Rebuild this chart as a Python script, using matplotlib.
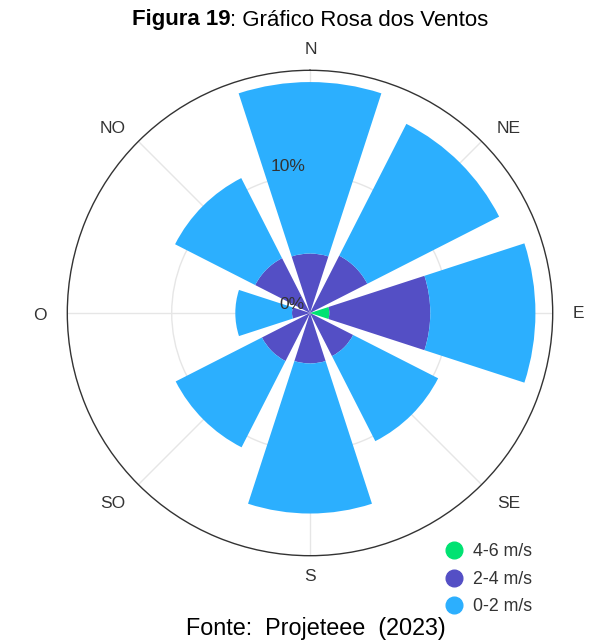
import numpy as np
import matplotlib.pyplot as plt

plt.rcParams["font.family"] = ["Liberation Sans", "DejaVu Sans"]

# wind directions (compass, clockwise from north)
directions = ["N", "NE", "E", "SE", "S", "SO", "O", "NO"]
angles_deg = [0, 45, 90, 135, 180, 225, 270, 315]

# frequency (%) per speed class
speed_4_6 = [0.0, 0.0, 1.4, 0.0, 0.0, 0.0, 0.0, 0.0]
speed_2_4 = [4.3, 4.65, 7.3, 3.5, 3.65, 3.9, 1.3, 4.45]
speed_0_2 = [12.4, 10.7, 7.6, 6.9, 10.85, 7.0, 4.1, 6.5]

series_labels = ["4-6 m/s", "2-4 m/s", "0-2 m/s"]
series_colors = ["#00e272", "#544fc5", "#2caffe"]

r_max = 17.55
r_ticks = [0, 10]
r_tick_labels = ["0%", "10%"]

W, H = 600, 643
fig = plt.figure(figsize=(W / 100, H / 100), dpi=100)

cx, cy, rad = 310, 313, 242.7
ax = fig.add_axes([(cx - rad) / W, (H - cy - rad) / H, 2 * rad / W, 2 * rad / H],
                  projection="polar")
ax.set_theta_zero_location("N")
ax.set_theta_direction(-1)
ax.set_ylim(0, r_max)

theta = np.deg2rad(angles_deg)
width = np.deg2rad(36)
bottom = np.zeros(len(theta))
for vals, lab, col in zip([speed_4_6, speed_2_4, speed_0_2], series_labels, series_colors):
    ax.bar(theta, vals, width=width, bottom=bottom, color=col, label=lab,
           linewidth=0, zorder=2)
    bottom = bottom + np.array(vals)

# grid / frame
ax.set_axisbelow(True)
ax.set_xticks(theta)
ax.set_xticklabels([])
ax.set_yticks([10])
ax.set_yticklabels([])
ax.grid(True, color="#e6e6e6", linewidth=1)
ax.spines["polar"].set_color("#333333")
ax.spines["polar"].set_linewidth(1)
ax.tick_params(length=0)

# direction labels, offset (px) from the outer circle
label_offsets = [(0.5, 21), (27, 13), (26, -0.3), (27, -19), (0, -20.5),
                 (-26, -19), (-27, -2), (-26, 13)]
for a, d, (dx, dy) in zip(theta, directions, label_offsets):
    ax.annotate(d, xy=(a, r_max), xytext=(dx * 0.72, dy * 0.72),
                textcoords="offset points", ha="center", va="center",
                fontsize=12.5, color="#333333", annotation_clip=False)

# radial labels
for r, lab in zip(r_ticks, r_tick_labels):
    ax.annotate(lab, xy=(0, r), xytext=(-3.6, 6.0), textcoords="offset points",
                ha="right", va="center", fontsize=12.5, color="#333333", zorder=5)

# legend
handles = [plt.Line2D([], [], marker="o", linestyle="none", markersize=12,
                      markerfacecolor=c, markeredgecolor=c) for c in series_colors]
fig.legend(handles, series_labels, loc="upper left",
           bbox_to_anchor=(436 / W, 1 - 543.5 / H), frameon=False,
           fontsize=12.8, labelcolor="#333333", handletextpad=0.1,
           labelspacing=0.58, borderaxespad=0, borderpad=0)

# title and source
t1 = fig.text(0.5, 1 - 20 / H, "Figura 19", fontsize=16, fontweight="bold",
              ha="right", va="center")
t2 = fig.text(0.5, 1 - 20 / H, ": Gráfico Rosa dos Ventos", fontsize=16,
              ha="left", va="center")
fig.canvas.draw()
r = fig.canvas.get_renderer()
w1 = t1.get_window_extent(r).width
w2 = t2.get_window_extent(r).width
shift = (w1 - w2) / 2 / W
t1.set_x(0.5 + shift + 10 / W)
t2.set_x(0.5 + shift + 10 / W)

fig.text(316 / W, 1 - 628 / H, "Fonte:  Projeteee  (2023)", fontsize=16.8,
         ha="center", va="center")

fig.savefig("out.png", dpi=100, facecolor="white")
